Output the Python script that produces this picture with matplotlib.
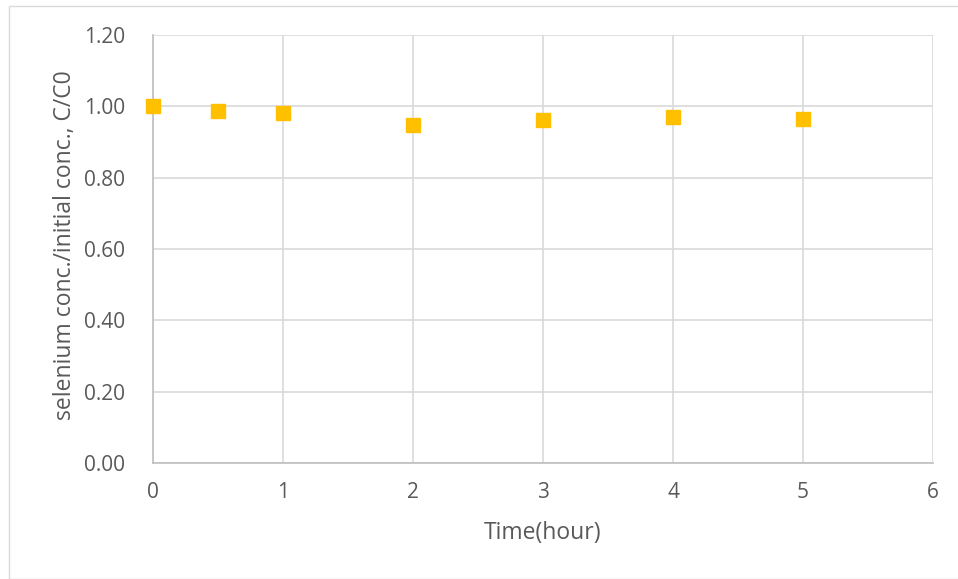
import matplotlib.pyplot as plt
from matplotlib.patches import Rectangle

# 采样时间 (h) 与相对浓度 C/C0
time_h = [0, 0.5, 1, 2, 3, 4, 5]
c_ratio = [1.000, 0.986, 0.982, 0.948, 0.962, 0.971, 0.965]

x_ticks = [0, 1, 2, 3, 4, 5, 6]
y_ticks = [0.0, 0.2, 0.4, 0.6, 0.8, 1.0, 1.2]

plt.rcParams['font.family'] = ['Open Sans', 'DejaVu Sans']
text_color = '#595959'

fig = plt.figure(figsize=(9.58, 5.79), dpi=100)
ax = fig.add_axes([153 / 958, 1 - 463 / 579, 780 / 958, 428 / 579])

# 图表外框
fig.patches.append(Rectangle((9 / 958, 0), 1, 1 - 6 / 579, transform=fig.transFigure,
                             fill=False, edgecolor='#D9D9D9', linewidth=1.0))

ax.plot(time_h, c_ratio, linestyle='none', marker='s', markersize=10.5,
        color='#FFC000', markeredgecolor='#FFC000', zorder=3, clip_on=False)

ax.set_xlim(0, 6)
ax.set_ylim(0, 1.2)
ax.set_xticks(x_ticks)
ax.set_yticks(y_ticks)
ax.set_yticklabels([f'{v:.2f}' for v in y_ticks])
ax.grid(True, color='#D9D9D9', linewidth=1.2)
ax.set_axisbelow(True)

for side in ['top', 'right']:
    ax.spines[side].set_visible(False)
for side in ['left', 'bottom']:
    ax.spines[side].set_color('#BFBFBF')
    ax.spines[side].set_linewidth(1.2)

ax.tick_params(axis='both', length=0, labelsize=15, colors=text_color)
ax.tick_params(axis='y', pad=20)
ax.tick_params(axis='x', pad=14)

ax.set_xlabel('Time(hour)', fontsize=16.5, color=text_color, va='center')
ax.set_ylabel('selenium conc./initial conc., C/C0', fontsize=16.5, color=text_color, va='center')
ax.xaxis.set_label_coords(0.5, (463 - 533) / 428)
ax.yaxis.set_label_coords((65 - 153) / 780, (463 - 245) / 428)

fig.savefig('out.png', dpi=100)
